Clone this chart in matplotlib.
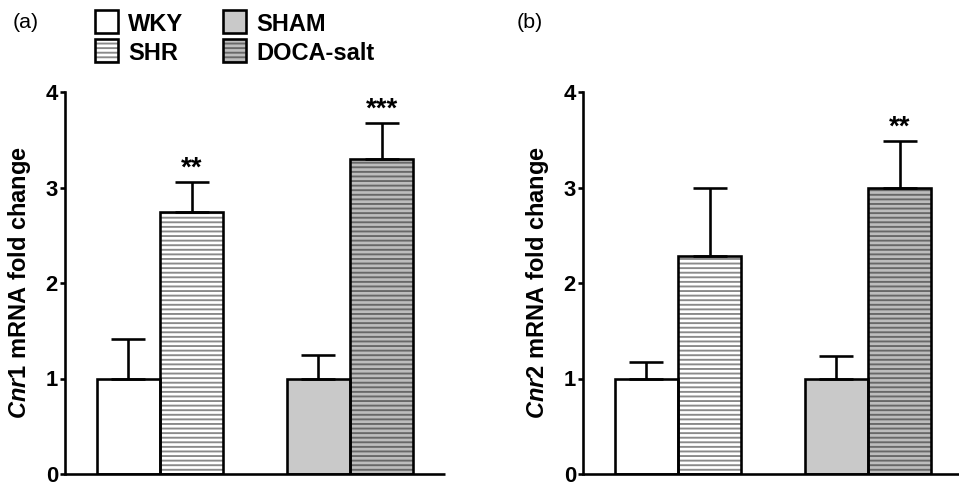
import matplotlib
matplotlib.use('Agg')
import matplotlib.pyplot as plt
from matplotlib.patches import Rectangle

# ---------------- data ----------------
groups = ['WKY', 'SHR', 'SHAM', 'DOCA-salt']
genes = ['Cnr1', 'Cnr2']
panel_labels = ['(a)', '(b)']
cnr1_mean = [1.0, 2.74, 1.0, 3.30]
cnr1_sem = [0.41, 0.32, 0.25, 0.38]
cnr1_sig = ['', '**', '', '***']
cnr2_mean = [1.0, 2.28, 1.0, 3.00]
cnr2_sem = [0.17, 0.71, 0.24, 0.49]
cnr2_sig = ['', '', '', '**']
yticks = [0, 1, 2, 3, 4]

# ---------------- style ----------------
DPI = 110
W, H = 959, 483
PT = 72.0 / DPI  # px -> pt

plt.rcParams['font.family'] = ['Liberation Sans', 'DejaVu Sans']
plt.rcParams['mathtext.fontset'] = 'custom'
plt.rcParams['mathtext.it'] = 'Liberation Sans:italic:bold'
plt.rcParams['mathtext.rm'] = 'Liberation Sans:bold'
plt.rcParams['mathtext.bf'] = 'Liberation Sans:bold'
plt.rcParams['hatch.linewidth'] = 1.9 * PT

fills = ['white', 'white', '#c9c9c9', '#bdbdbd']
hatches = [None, '----', None, '----']
hatch_cols = ['white', '#8a8a8a', '#c9c9c9', '#686868']
positions = [0, 1, 3, 4]
LW = 2.6 * PT

fig = plt.figure(figsize=(W / DPI, H / DPI), dpi=DPI)


def px_axes(x0, x1, ytop, ybot):
    return fig.add_axes([x0 / W, 1 - ybot / H, (x1 - x0) / W, (ybot - ytop) / H])


axes = [px_axes(65, 445, 92, 474), px_axes(583, 963, 92, 474)]
data = [(cnr1_mean, cnr1_sem, cnr1_sig), (cnr2_mean, cnr2_sem, cnr2_sig)]

for ax, (mean, sem, sig), gene in zip(axes, data, genes):
    for x, m, f, h, hc in zip(positions, mean, fills, hatches, hatch_cols):
        ax.bar(x, m, width=1.0, color=f, edgecolor=hc, hatch=h, linewidth=0, zorder=2)
        ax.bar(x, m, width=1.0, fill=False, edgecolor='black', linewidth=LW, zorder=3)
    ax.errorbar(positions, mean, yerr=[[0] * len(mean), sem], fmt='none',
                ecolor='black', elinewidth=LW, capsize=17 * PT, capthick=LW, zorder=2.5)
    for x, m, s, t in zip(positions, mean, sem, sig):
        if t:
            ax.annotate(t, (x, m + s), xytext=(0, 0), textcoords='offset points',
                        ha='center', va='bottom', fontsize=18, fontweight='bold')
    ax.set_xlim(-1, 5)
    ax.set_ylim(0, 4)
    ax.set_yticks(yticks)
    ax.set_yticklabels([str(t) for t in yticks], fontsize=14.5, fontweight='bold')
    ax.set_xticks([])
    for sp in ['top', 'right']:
        ax.spines[sp].set_visible(False)
    for sp in ['left', 'bottom']:
        ax.spines[sp].set_linewidth(LW)
    ax.spines['bottom'].set_capstyle('butt')
    ax.tick_params(axis='y', direction='out', length=5 * PT, width=LW, pad=2 * PT)
    ax.set_ylabel(r'$\mathit{' + gene + '}$ mRNA fold change', fontsize=15.5, fontweight='bold')
    ax.yaxis.set_label_coords(-32 / 380, 0.5)
    ax.patch.set_visible(False)

# panel labels
for lab, px in zip(panel_labels, [13, 517]):
    fig.text(px / W, 1 - 23 / H, lab, ha='left', va='center', fontsize=14)

# legend (manual)
leg_box_x = [95, 95, 223, 223]
leg_box_y = [10, 39, 10, 39]
BOX = 23
for g, bx, by, f, h, hc in zip(groups, leg_box_x, leg_box_y, fills, hatches, hatch_cols):
    r1 = Rectangle((bx / W, 1 - (by + BOX) / H), BOX / W, BOX / H, transform=fig.transFigure,
                   facecolor=f, edgecolor=hc, hatch=h, linewidth=0)
    r2 = Rectangle((bx / W, 1 - (by + BOX) / H), BOX / W, BOX / H, transform=fig.transFigure,
                   fill=False, edgecolor='black', linewidth=LW)
    fig.add_artist(r1)
    fig.add_artist(r2)
    fig.text((bx + 33) / W, 1 - (by + 21) / H, g, ha='left', va='baseline',
             fontsize=15.5, fontweight='bold')

fig.savefig('out.png', dpi=DPI)
